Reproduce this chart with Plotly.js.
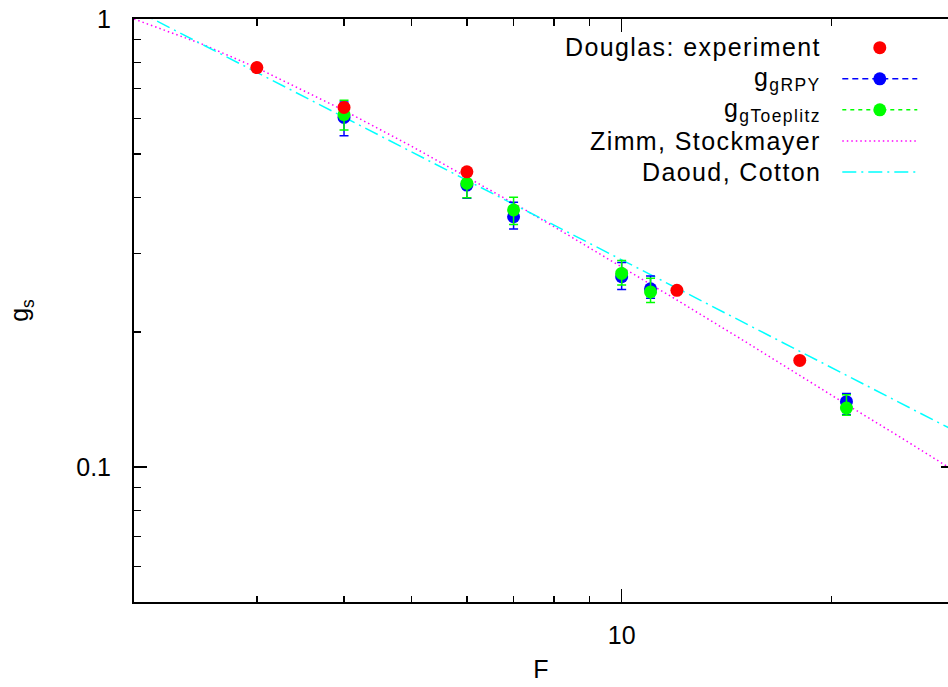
<!DOCTYPE html>
<html>
<head>
<meta charset="utf-8">
<script src="https://cdn.plot.ly/plotly-3.0.1.min.js"></script>
<style>
html,body{margin:0;padding:0;overflow:hidden;background:#fff;}
#chart{width:948px;height:687px;}
.annotation-text{letter-spacing:1.4px;}
</style>
</head>
<body>
<div id="chart"></div>
<script>
// Douglas: experiment
const douglasF = [3, 4, 6, 12, 18];
const douglasG = [0.779, 0.635, 0.456, 0.248, 0.173];

// g_gRPY with error bars
const rpyF = [4, 6, 7, 10, 11, 21];
const rpyG = [0.603, 0.426, 0.362, 0.266, 0.250, 0.140];
const rpyHi = [0.653, 0.458, 0.390, 0.286, 0.267, 0.146];
const rpyLo = [0.549, 0.398, 0.340, 0.249, 0.238, 0.131];

// g_gToeplitz with error bars
const toepF = [4, 6, 7, 10, 11, 21];
const toepG = [0.612, 0.430, 0.375, 0.2705, 0.246, 0.1355];
const toepHi = [0.659, 0.460, 0.400, 0.289, 0.264, 0.145];
const toepLo = [0.565, 0.399, 0.348, 0.255, 0.233, 0.1306];

// Zimm, Stockmayer curve
const zsF = [2, 2.5, 3, 4, 5, 6, 7, 8, 10, 12, 15, 18, 21, 25, 30];
const zsG = [1.0, 0.88, 0.778, 0.625, 0.52, 0.444, 0.388, 0.344, 0.28, 0.236, 0.191, 0.160, 0.138, 0.117, 0.098];

// Daoud, Cotton line
const dcF = [2, 3, 4, 6, 10, 20, 30];
const dcG = [1.051, 0.760, 0.604, 0.437, 0.290, 0.167, 0.1205];

// labels
const legendLabels = ["Douglas: experiment", "g<sub>gRPY</sub>", "g<sub>gToeplitz</sub>", "Zimm, Stockmayer", "Daoud, Cotton"];
const xTickVals = [10];
const xTickText = ["10"];
const xMinor = [3, 4, 5, 6, 7, 8, 9, 20];
const yTickVals = [0.1, 1];
const yTickText = ["0.1", "1"];
const yMinor = [0.06, 0.07, 0.08, 0.09, 0.2, 0.3, 0.4, 0.5, 0.6, 0.7, 0.8, 0.9];

const FONT = "Liberation Sans, Arial, sans-serif";
const FS = 25;
const X_MAX = 29.36; // right edge of the visible frame

function errs(center, hi, lo) {
  return {
    type: 'data', symmetric: false,
    array: center.map((c, i) => hi[i] - c),
    arrayminus: center.map((c, i) => c - lo[i])
  };
}

const traces = [
  {x: zsF, y: zsG, mode: 'lines', name: '', showlegend: false,
   line: {color: '#ff00ff', width: 1.5, dash: '1.5px,3px'}},
  {x: dcF, y: dcG, mode: 'lines', name: '', showlegend: false,
   line: {color: '#00ffff', width: 1.5, dash: '14px,5px,2px,5px'}},
  {x: rpyF, y: rpyG, mode: 'markers', name: '', showlegend: false,
   marker: {color: '#0000ff', size: 13},
   error_y: Object.assign(errs(rpyG, rpyHi, rpyLo), {color: '#0000ff', thickness: 1.5, width: 4.5})},
  {x: toepF, y: toepG, mode: 'markers', name: '', showlegend: false,
   marker: {color: '#00ff00', size: 13},
   error_y: Object.assign(errs(toepG, toepHi, toepLo), {color: '#00ff00', thickness: 1.5, width: 4.5})},
  {x: douglasF, y: douglasG, mode: 'markers', name: '', showlegend: false,
   marker: {color: '#ff0000', size: 13}},
  // right-hand frame ticks
  {x: [null], y: [null], yaxis: 'y2', mode: 'markers', showlegend: false, hoverinfo: 'skip'},
  // legend samples (no data)
  {x: [null], y: [null], mode: 'markers', name: '', legendrank: 1,
   marker: {color: '#ff0000', size: 13}},
  {x: [null], y: [null], mode: 'lines+markers', name: '', legendrank: 2,
   marker: {color: '#0000ff', size: 13}, line: {color: '#0000ff', width: 1.5, dash: '6px,4px'}},
  {x: [null], y: [null], mode: 'lines+markers', name: '', legendrank: 3,
   marker: {color: '#00ff00', size: 13}, line: {color: '#00ff00', width: 1.5, dash: '4px,4px'}},
  {x: [null], y: [null], mode: 'lines', name: '', legendrank: 4,
   line: {color: '#ff00ff', width: 1.5, dash: '1.5px,3px'}},
  {x: [null], y: [null], mode: 'lines', name: '', legendrank: 5,
   line: {color: '#00ffff', width: 1.5, dash: '14px,5px,2px,5px'}}
];

const legY = [0.9519, 0.8970, 0.8438, 0.7906, 0.7374];
const annotations = legendLabels.map((t, i) => ({
  text: t, xref: 'paper', yref: 'paper', x: 0.8464, y: legY[i],
  xanchor: 'right', yanchor: 'middle', showarrow: false,
  font: {family: FONT, size: FS, color: '#000'}
}));

const axisCommon = {
  showgrid: false, zeroline: false, showline: true, linecolor: '#000', linewidth: 2,
  ticks: 'inside', ticklen: 13, tickwidth: 1.5, tickcolor: '#000',
  tickfont: {family: FONT, size: FS, color: '#000'}
};
const yRange = [Math.log10(0.05), 0];

const layout = {
  width: 948, height: 687,
  margin: {l: 134, r: 0, t: 19, b: 85.3},
  paper_bgcolor: '#fff', plot_bgcolor: '#fff',
  font: {family: FONT, size: FS, color: '#000'},
  xaxis: Object.assign({}, axisCommon, {
    type: 'log', range: [Math.log10(2), Math.log10(X_MAX)], mirror: 'ticks',
    tickmode: 'array', tickvals: xTickVals, ticktext: xTickText,
    ticklabelstandoff: 10,
    minor: {tickmode: 'array', tickvals: xMinor, ticks: 'inside', ticklen: 6.5, tickwidth: 1.5, tickcolor: '#000'},
    title: {text: 'F', font: {family: FONT, size: FS, color: '#000'}, standoff: 12}
  }),
  yaxis: Object.assign({}, axisCommon, {
    type: 'log', range: yRange, mirror: false,
    tickmode: 'array', tickvals: yTickVals, ticktext: yTickText,
    ticklabelstandoff: 16,
    minor: {tickmode: 'array', tickvals: yMinor, ticks: 'inside', ticklen: 6.5, tickwidth: 1.5, tickcolor: '#000'},
    title: {text: 'g<sub>s</sub>', font: {family: FONT, size: FS, color: '#000'}, standoff: 40}
  }),
  yaxis2: {
    type: 'log', range: yRange, overlaying: 'y', side: 'right', anchor: 'x',
    showgrid: false, zeroline: false, showline: false, showticklabels: false,
    ticks: 'inside', ticklen: 7, tickwidth: 1.5, tickcolor: '#000',
    tickmode: 'array', tickvals: yTickVals
  },
  showlegend: true,
  legend: {x: 0.864, y: 0.986, xanchor: 'left', yanchor: 'top', bgcolor: 'rgba(0,0,0,0)',
    borderwidth: 0, itemwidth: 75, traceorder: 'normal',
    font: {family: FONT, size: 21.6, color: '#000'}},
  annotations: annotations
};

Plotly.newPlot('chart', traces, layout, {displayModeBar: false, responsive: false, staticPlot: true});
</script>
</body>
</html>
